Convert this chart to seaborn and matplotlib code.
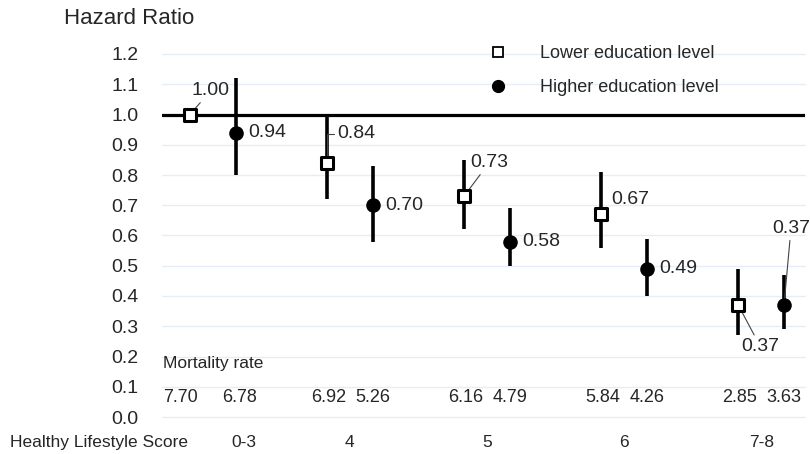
import numpy as np
import pandas as pd
import seaborn as sns
import matplotlib.pyplot as plt
from matplotlib.lines import Line2D

# -------- DATA --------
groups = ["0-3", "4", "5", "6", "7-8"]
hr_lower = [1.00, 0.84, 0.73, 0.67, 0.37]
hr_higher = [0.94, 0.70, 0.58, 0.49, 0.37]
ci_lower_lo = [np.nan, 0.72, 0.62, 0.56, 0.27]
ci_lower_hi = [np.nan, 1.00, 0.85, 0.81, 0.49]
ci_higher_lo = [0.80, 0.58, 0.50, 0.40, 0.29]
ci_higher_hi = [1.12, 0.83, 0.69, 0.59, 0.47]
mort_lower = ["7.70", "6.92", "6.16", "5.84", "2.85"]
mort_higher = ["6.78", "5.26", "4.79", "4.26", "3.63"]

# -------- STYLE --------
sns.set_theme(style="white")
plt.rcParams["font.family"] = ["Liberation Sans", "DejaVu Sans"]

OFF = 0.167
x_c = np.arange(len(groups))
x_low = x_c - OFF
x_high = x_c + OFF

df = pd.DataFrame({
    "x": np.concatenate([x_low, x_high]),
    "hr": hr_lower + hr_higher,
    "edu": ["Lower education level"] * 5 + ["Higher education level"] * 5,
})

fig = plt.figure(figsize=(8.1, 4.54), dpi=100)
ax = fig.add_axes([162 / 810, 37 / 454, 643 / 810, 363 / 454])

# grid + reference line
for yv in np.arange(0, 1.21, 0.1):
    ax.axhline(yv, color="#e3eef9", lw=1, zorder=0, clip_on=False)
ax.axhline(1.0, color="black", lw=2.3, zorder=1)

# -------- CI BARS --------
ax.vlines(x_low, ci_lower_lo, ci_lower_hi, color="black", lw=2.6, zorder=2)
ax.vlines(x_high, ci_higher_lo, ci_higher_hi, color="black", lw=2.6, zorder=2)

# -------- POINTS --------
sub = df[df.edu == "Lower education level"]
sns.scatterplot(data=sub, x="x", y="hr", marker="s", s=80, color="white",
                edgecolor="black", linewidth=2.2, ax=ax, zorder=4, legend=False)
sub = df[df.edu == "Higher education level"]
sns.scatterplot(data=sub, x="x", y="hr", marker="o", s=110, color="black",
                edgecolor="black", linewidth=0, ax=ax, zorder=4, legend=False)

# -------- LABELS --------
lead = dict(arrowstyle="-", color="#444444", lw=0.8, shrinkA=0, shrinkB=0)
low_offsets = [(15, 17, True), (21, 21, "angle"), (18, 24, True), (21, 11, False), (16, -30, True)]
for xi, v, (dx, dy, ld) in zip(x_low, hr_lower, low_offsets):
    kw = {}
    if ld == "angle":
        kw["arrowprops"] = dict(lead, connectionstyle="angle,angleA=180,angleB=90,rad=0")
    elif ld:
        kw["arrowprops"] = lead
    ax.annotate(f"{v:.2f}", (xi, v), xytext=(dx, dy), textcoords="offset points",
                ha="center", va="center", fontsize=14, zorder=3, **kw)

for i, (xi, v) in enumerate(zip(x_high, hr_higher)):
    if i == len(groups) - 1:
        ax.annotate(f"{v:.2f}", (xi, v), xytext=(5, 55), textcoords="offset points",
                    ha="center", va="center", fontsize=14, zorder=3,
                    arrowprops=lead, annotation_clip=False)
    else:
        ax.annotate(f"{v:.2f}", (xi, v), xytext=(9, 0), textcoords="offset points",
                    ha="left", va="center", fontsize=14, zorder=3)

# mortality rate row
ax.text(-0.36, 0.178, "Mortality rate", ha="left", va="center", fontsize=12.5)
for i, (xi, m) in enumerate(zip(x_low, mort_lower)):
    ax.annotate(m, (xi, 0.065), xytext=(-7 if i == 0 else 1, 0), textcoords="offset points",
                ha="center", va="center", fontsize=13)
for i, (xi, m) in enumerate(zip(x_high, mort_higher)):
    ax.annotate(m, (xi, 0.065), xytext=(3 if i == 0 else 0, 0), textcoords="offset points",
                ha="center", va="center", fontsize=13)

# -------- AXES --------
ax.set_xlim(-0.37, 4.32)
ax.set_ylim(0, 1.2)
ax.set_yticks(np.arange(0, 1.21, 0.1))
ax.set_yticklabels([f"{t:.1f}" for t in np.arange(0, 1.21, 0.1)], fontsize=14)
ax.tick_params(axis="y", length=0, pad=17)
for lbl in ax.get_yticklabels():
    lbl.set_va("center_baseline")
ax.set_xticks([])
ax.set_xlabel("")
ax.set_ylabel("")
sns.despine(ax=ax, left=True, bottom=True)

label_x = x_c.astype(float)
label_x[0] = 0.225
for xi, g in zip(label_x, groups):
    ax.text(xi, -0.083, g, ha="center", va="center", fontsize=12.5,
            transform=ax.transData, clip_on=False)
fig.text(10 / 810, 1 - 442 / 454, "Healthy Lifestyle Score", ha="left", va="center", fontsize=12.5)
fig.text(64 / 810, 1 - 19 / 454, "Hazard Ratio", ha="left", va="center", fontsize=16)

# -------- LEGEND --------
handles = [
    Line2D([], [], marker="s", ls="", mfc="white", mec="black", ms=6.5, mew=1.3),
    Line2D([], [], marker="o", ls="", mfc="black", mec="black", ms=8.5),
]
fig.legend(handles, ["Lower education level", "Higher education level"],
           loc="upper left", bbox_to_anchor=(480 / 810, 1 - 45 / 454),
           frameon=False, fontsize=13, labelspacing=0.95, handletextpad=1.3,
           borderpad=0, borderaxespad=0)

fig.savefig("out.png", dpi=100)
